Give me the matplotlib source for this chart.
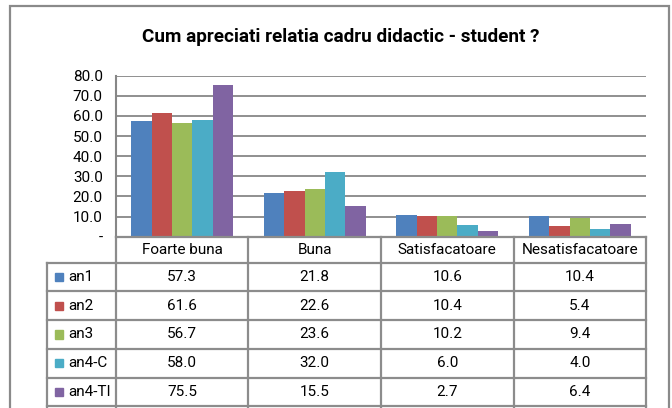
import matplotlib
matplotlib.use("Agg")
import matplotlib.pyplot as plt
from matplotlib.patches import Rectangle
from matplotlib.lines import Line2D
from matplotlib import font_manager

names = {f.name for f in font_manager.fontManager.ttflist}
fam = [n for n in ["Roboto", "DejaVu Sans"] if n in names]
plt.rcParams['font.family'] = fam

title = "Cum apreciati relatia cadru didactic - student ?"
categories = ["Foarte buna", "Buna", "Satisfacatoare", "Nesatisfacatoare"]
series = ["an1", "an2", "an3", "an4-C", "an4-TI"]
an1 = [57.3, 21.8, 10.6, 10.4]
an2 = [61.6, 22.6, 10.4, 5.4]
an3 = [56.7, 23.6, 10.2, 9.4]
an4_C = [58.0, 32.0, 6.0, 4.0]
an4_TI = [75.5, 15.5, 2.7, 6.4]
values = [an1, an2, an3, an4_C, an4_TI]
colors = ["#4F81BD", "#C0504D", "#9BBB59", "#4BACC6", "#8064A2"]
yticks = [0, 10, 20, 30, 40, 50, 60, 70, 80]
ytick_labels = ["-", "10.0", "20.0", "30.0", "40.0", "50.0", "60.0", "70.0", "80.0"]

W, H = 672, 408
fig = plt.figure(figsize=(W / 100, H / 100), dpi=100)

def fx(px):
    return px / W

def fy(py):
    return 1 - py / H

grid_c = "#878787"
fs = 11

# outer border
fig.add_artist(Rectangle((fx(10), fy(420)), fx(669) - fx(10), fy(6) - fy(420),
                         transform=fig.transFigure, fill=False, edgecolor="#8a8a8a", lw=1.6))

fig.text(fx(341), fy(41.5), title, ha="center", va="baseline", fontsize=13.6, fontweight="bold")

# bar axes
L, R, T, B = 116, 646, 75.7, 236.7
ax = fig.add_axes([fx(L), fy(B), fx(R) - fx(L), fy(T) - fy(B)])
n = len(series)
bw = 0.154
for i, (s, v, c) in enumerate(zip(series, values, colors)):
    xs = [j + (i - (n - 1) / 2) * bw for j in range(len(categories))]
    ax.bar(xs, v, width=bw, color=c, zorder=3, linewidth=0)
ax.set_xlim(-0.5, len(categories) - 0.5)
ax.set_ylim(0, 80)
ax.set_yticks(yticks)
ax.set_yticklabels(ytick_labels)
ax.tick_params(axis="y", length=0, pad=9.5, labelsize=fs)
ax.set_xticks([])
for sp in ["top", "right", "bottom"]:
    ax.spines[sp].set_visible(False)
ax.spines["left"].set_color(grid_c)
ax.spines["left"].set_linewidth(1.5)
ax.yaxis.grid(True, color=grid_c, lw=1.3, zorder=0)
ax.set_axisbelow(True)

# table axes
TL, TT, TB = 47, 236.7, 408
tax = fig.add_axes([fx(TL), fy(TB), fx(R) - fx(TL), fy(TT) - fy(TB)])
unit = (R - L) / len(categories)
leg_left = -0.5 - (L - TL) / unit
tax.set_xlim(leg_left, len(categories) - 0.5)
tax.set_ylim(TB - TT, 0)
tax.axis("off")
row_edges = [0, 26, 54.7, 83.4, 112.1, 140.8, 169.5]
lc = "#8c8c8c"
tlw = 1.6
# horizontal lines
for k, e in enumerate(row_edges):
    x0 = -0.5 if k == 0 else leg_left
    tax.add_line(Line2D([x0, len(categories) - 0.5], [e, e], color=lc, lw=tlw, clip_on=False))
# vertical lines
for j in range(len(categories) + 1):
    xv = -0.5 + j
    tax.add_line(Line2D([xv, xv], [0, TB - TT + 5], color=lc, lw=tlw, clip_on=False))
tax.add_line(Line2D([leg_left, leg_left], [row_edges[1], TB - TT + 5], color=lc, lw=tlw, clip_on=False))

# header
for j, cat in enumerate(categories):
    tax.text(j, (row_edges[0] + row_edges[1]) / 2, cat, ha="center", va="center", fontsize=fs)
# rows
for i, (s, v, c) in enumerate(zip(series, values, colors)):
    yc = (row_edges[i + 1] + row_edges[i + 2]) / 2
    sq = 8.5 / unit
    tax.add_patch(Rectangle((leg_left + 8 / unit, yc - 4.2), sq, 8.5, color=c, clip_on=False))
    tax.text(leg_left + 21 / unit, yc, s, ha="left", va="center", fontsize=fs)
    for j, val in enumerate(v):
        tax.text(j, yc, f"{val:.1f}", ha="center", va="center", fontsize=fs)

fig.savefig("out.png", dpi=100)
